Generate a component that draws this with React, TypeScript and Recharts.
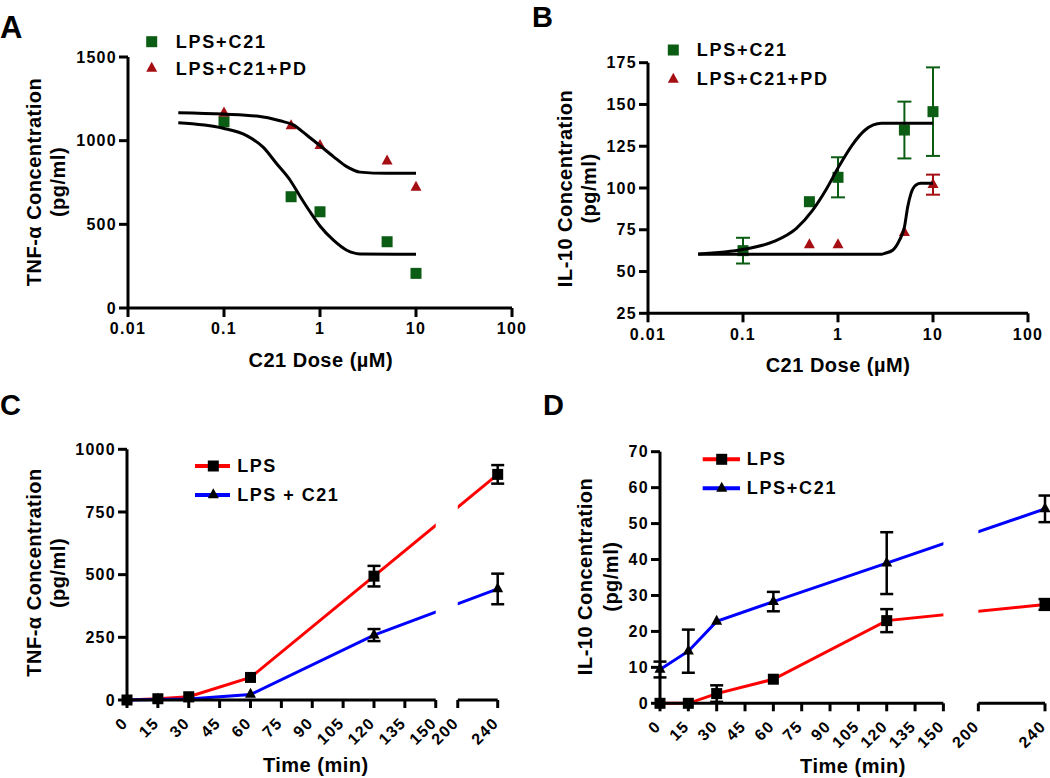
import React from "react";
import {
  ComposedChart,
  Line,
  Scatter,
  XAxis,
  YAxis,
  ErrorBar,
  ReferenceArea,
  ReferenceLine,
  Legend,
} from "recharts";

const FONT = "'Liberation Sans', Arial, Helvetica, sans-serif";
const GREEN = "#0b5d13";
const DARKRED = "#a50f14";
const RED = "#ff0000";
const BLUE = "#0000ff";
const BLACK = "#000000";

// ---------------- Panel A : TNF-alpha vs C21 dose ----------------
const doseA = [0.1, 0.5, 1, 5, 10];
const tnfC21 = [1113, 665, 575, 396, 207];
const tnfC21PD = [1165, 1088, 970, 878, 721];
const fitDoseA_C21 = [0.0334, 0.098, 0.172, 0.257, 0.354, 0.487, 0.619, 0.787, 1, 1.38, 1.9, 2.61, 10];
const fitTnfA_C21 = [1107, 1074, 1030, 960, 862, 765, 668, 575, 490, 405, 345, 323, 321];
const fitDoseA_PD = [0.0334, 0.098, 0.219, 0.383, 0.527, 0.726, 1, 1.38, 1.9, 2.61, 4.95, 10];
const fitTnfA_PD = [1167, 1159, 1147, 1119, 1094, 1034, 970, 905, 845, 812, 805, 805];
const doseTicks = [0.01, 0.1, 1, 10, 100];
const tnfATicks = [0, 500, 1000, 1500];

// ---------------- Panel B : IL-10 vs C21 dose ----------------
const doseB = [0.1, 0.5, 1, 5, 10];
const il10C21 = [62.5, 91.8, 106.4, 134.7, 145.7];
const il10C21Err = [7.7, 0, 12, 17, 26.5];
const il10C21PD = [62, 65.9, 65.9, 73.2, 102];
const il10C21PDErr = [0, 0, 0, 0, 6];
const fitDoseB_C21 = [0.0337, 0.102, 0.209, 0.365, 0.542, 0.745, 1.02, 1.41, 1.93, 2.87, 10];
const fitIl10B_C21 = [60.5, 63.3, 67.9, 75.9, 86.8, 98.8, 112.8, 125.7, 134.7, 138.7, 138.7];
const fitDoseB_PD = [0.0337, 2.87, 3.11, 3.79, 4.45, 5.01, 5.42, 5.87, 6.62, 7.45, 10];
const fitIl10B_PD = [60.3, 60.3, 60.9, 62.9, 68.9, 76.8, 88.8, 96.8, 101.8, 102.8, 102.8];
const il10BTicks = [25, 50, 75, 100, 125, 150, 175];

// ---------------- Panel C : TNF-alpha time course ----------------
const timePoints = [0, 15, 30, 60, 120, 240];
const tnfLPS = [0, 5, 13, 90, 494, 900];
const tnfLPSErr = [0, 0, 0, 0, 41, 37];
const tnfLPSC21 = [0, 2, 4, 22, 259, 443];
const tnfLPSC21Err = [0, 0, 0, 0, 24, 61];
const timeTicks = [0, 15, 30, 45, 60, 75, 90, 105, 120, 135, 150, 200, 240];
const tnfCTicks = [0, 250, 500, 750, 1000];

// ---------------- Panel D : IL-10 time course ----------------
const il10LPS = [0, 0, 2.7, 6.7, 23, 27.5];
const il10LPSErr = [0, 0, 2.3, 0, 3.2, 1.5];
const il10LPSC21 = [9.4, 14.5, 22.8, 28.3, 39, 54.1];
const il10LPSC21Err = [2.2, 6, 0, 2.7, 8.6, 3.7];
const il10DTicks = [0, 10, 20, 30, 40, 50, 60, 70];

// ---------------- broken time axis (150 | 200) ----------------
type Brk = { end1: number; start2: number; gap: number; ratio: number };
const brkC: Brk = { end1: 150, start2: 200, gap: 10.7, ratio: 0.485 };
const brkD: Brk = { end1: 150, start2: 200, gap: 18.5, ratio: 0.882 };
const bpos = (t: number, b: Brk) => (t <= b.end1 ? t : b.end1 + b.gap + (t - b.start2) * b.ratio);

// ---------------- data tables ----------------
const pts = (xs: number[], ys: number[], errs?: number[]) =>
  xs.map((x, i) => ({ x, y: ys[i], err: errs ? errs[i] : 0 }));

const aC21 = pts(doseA, tnfC21);
const aPD = pts(doseA, tnfC21PD);
const aFitC21 = pts(fitDoseA_C21, fitTnfA_C21);
const aFitPD = pts(fitDoseA_PD, fitTnfA_PD);

const bC21 = pts(doseB, il10C21, il10C21Err);
const bPD = pts(doseB, il10C21PD, il10C21PDErr);
const bFitC21 = pts(fitDoseB_C21, fitIl10B_C21);
const bFitPD = pts(fitDoseB_PD, fitIl10B_PD);

const cData = timePoints.map((t, i) => ({
  pos: bpos(t, brkC),
  lps: tnfLPS[i],
  lpsErr: tnfLPSErr[i],
  c21: tnfLPSC21[i],
  c21Err: tnfLPSC21Err[i],
}));
const dData = timePoints.map((t, i) => ({
  pos: bpos(t, brkD),
  lps: il10LPS[i],
  lpsErr: il10LPSErr[i],
  c21: il10LPSC21[i],
  c21Err: il10LPSC21Err[i],
}));

// ---------------- styles / helpers ----------------
const tickText: React.CSSProperties = {
  fontFamily: FONT,
  fontWeight: 700,
  fontSize: 16,
  letterSpacing: 1.3,
  fill: BLACK,
};
const titleText: React.CSSProperties = {
  fontFamily: FONT,
  fontWeight: 700,
  fontSize: 20,
  letterSpacing: 0.5,
  fill: BLACK,
};
const letterText: React.CSSProperties = {
  fontFamily: FONT,
  fontWeight: 700,
  fontSize: 29,
  fill: BLACK,
};
const axisStroke = { stroke: BLACK, strokeWidth: 3 };

const XTickCenter = (p: any) => (
  <text x={p.x} y={p.y} dy="0.71em" textAnchor="middle" style={tickText}>
    {String(p.payload.value)}
  </text>
);
const YTick = (p: any) => (
  <text x={p.x} y={p.y} dy="0.355em" textAnchor="end" style={tickText}>
    {String(p.payload.value)}
  </text>
);
const makeRotTick = (b: Brk) => (p: any) => {
  const v = p.payload.value;
  const t = timeTicks.find((tt) => Math.abs(bpos(tt, b) - v) < 1e-6);
  return (
    <text
      transform={`translate(${p.x + 2},${p.y + 14}) rotate(-45)`}
      textAnchor="end"
      style={tickText}
    >
      {t === undefined ? "" : String(t)}
    </text>
  );
};

const sqDot = (size: number, color: string) => (p: any) => {
  const { cx, cy, index } = p;
  if (cx == null || cy == null) return <g key={`n${index}`} />;
  return <rect key={`s${index}`} x={cx - size / 2} y={cy - size / 2} width={size} height={size} fill={color} />;
};
const triPoints = (cx: number, cy: number, w: number, h: number) =>
  `${cx},${cy - (2 * h) / 3} ${cx + w / 2},${cy + h / 3} ${cx - w / 2},${cy + h / 3}`;
const triDot = (w: number, h: number, color: string) => (p: any) => {
  const { cx, cy, index } = p;
  if (cx == null || cy == null) return <g key={`n${index}`} />;
  return <polygon key={`t${index}`} points={triPoints(cx, cy, w, h)} fill={color} />;
};

type LegItem = { label: string; marker: "square" | "triangle"; color: string; line?: string };
const LegendBox = (props: {
  items: LegItem[];
  rows: number[];
  markerX: number;
  textX: number;
  lineFrom?: number;
  lineTo?: number;
  width: number;
  height: number;
  ls: number;
}) => (
  <svg width={props.width} height={props.height} style={{ display: "block", overflow: "visible" }}>
    {props.items.map((it, i) => {
      const y = props.rows[i];
      return (
        <g key={it.label}>
          {it.line && (
            <line x1={props.lineFrom} x2={props.lineTo} y1={y} y2={y} stroke={it.line} strokeWidth={4} />
          )}
          {it.marker === "square" ? (
            <rect x={props.markerX - 5.5} y={y - 5.5} width={11} height={11} fill={it.color} />
          ) : (
            <polygon points={triPoints(props.markerX, y, 11, 10)} fill={it.color} />
          )}
          <text
            x={props.textX}
            y={y}
            dominantBaseline="central"
            style={{ fontFamily: FONT, fontWeight: 700, fontSize: 18, letterSpacing: props.ls, fill: BLACK }}
          >
            {it.label}
          </text>
        </g>
      );
    })}
  </svg>
);

const legendAB: LegItem[] = [
  { label: "LPS+C21", marker: "square", color: GREEN },
  { label: "LPS+C21+PD", marker: "triangle", color: DARKRED },
];
const legendC: LegItem[] = [
  { label: "LPS", marker: "square", color: BLACK, line: RED },
  { label: "LPS + C21", marker: "triangle", color: BLACK, line: BLUE },
];
const legendD: LegItem[] = [
  { label: "LPS", marker: "square", color: BLACK, line: RED },
  { label: "LPS+C21", marker: "triangle", color: BLACK, line: BLUE },
];

const greenSquare = (p: any) => <rect x={p.cx - 5.5} y={p.cy - 5.5} width={11} height={11} fill={GREEN} />;
const redTriangle = (p: any) => <polygon points={triPoints(p.cx, p.cy, 11, 10)} fill={DARKRED} />;

// ---------------- panels ----------------
const PanelA = () => (
  <ComposedChart width={540} height={390} margin={{ top: 57, right: 28, bottom: 42, left: 68 }}>
    <XAxis
      type="number"
      dataKey="x"
      scale="log"
      domain={[0.01, 100]}
      ticks={doseTicks}
      interval={0}
      allowDataOverflow
      height={40}
      axisLine={axisStroke}
      tickLine={axisStroke}
      tickSize={9}
      tickMargin={6}
      tick={XTickCenter}
    />
    <YAxis
      type="number"
      dataKey="y"
      domain={[0, 1500]}
      ticks={tnfATicks}
      interval={0}
      width={60}
      axisLine={axisStroke}
      tickLine={axisStroke}
      tickSize={9}
      tickMargin={2}
      tick={YTick}
    />
    <Scatter data={aC21} isAnimationActive={false} shape={greenSquare} />
    <Scatter data={aPD} isAnimationActive={false} shape={redTriangle} />
    <Line data={aFitPD} dataKey="y" type="monotone" stroke={BLACK} strokeWidth={3} dot={false} isAnimationActive={false} zIndex={700} />
    <Line data={aFitC21} dataKey="y" type="monotone" stroke={BLACK} strokeWidth={3} dot={false} isAnimationActive={false} zIndex={700} />
    <Legend
      layout="vertical"
      align="center"
      verticalAlign="middle"
      wrapperStyle={{ left: 140, top: 25, width: 220, height: 60 }}
      content={() => (
        <LegendBox items={legendAB} rows={[16.7, 43.5]} markerX={11.7} textX={35.7} width={220} height={60} ls={1.8} />
      )}
    />
  </ComposedChart>
);

const PanelB = () => (
  <ComposedChart width={525} height={390} margin={{ top: 62.7, right: 22, bottom: 36.7, left: 63 }}>
    <XAxis
      type="number"
      dataKey="x"
      scale="log"
      domain={[0.01, 100]}
      ticks={doseTicks}
      interval={0}
      allowDataOverflow
      height={40}
      axisLine={axisStroke}
      tickLine={axisStroke}
      tickSize={9}
      tickMargin={6}
      tick={XTickCenter}
    />
    <YAxis
      type="number"
      dataKey="y"
      domain={[25, 175]}
      ticks={il10BTicks}
      interval={0}
      width={60}
      axisLine={axisStroke}
      tickLine={axisStroke}
      tickSize={9}
      tickMargin={2}
      tick={YTick}
    />
    <Scatter data={bPD} isAnimationActive={false} shape={redTriangle}>
      <ErrorBar dataKey="err" direction="y" width={7} stroke={DARKRED} strokeWidth={2} />
    </Scatter>
    <Scatter data={bC21} isAnimationActive={false} shape={greenSquare}>
      <ErrorBar dataKey="err" direction="y" width={7} stroke={GREEN} strokeWidth={2} />
    </Scatter>
    <Line data={bFitC21} dataKey="y" type="monotone" stroke={BLACK} strokeWidth={3} dot={false} isAnimationActive={false} zIndex={700} />
    <Line data={bFitPD} dataKey="y" type="monotone" stroke={BLACK} strokeWidth={3} dot={false} isAnimationActive={false} zIndex={700} />
    <Legend
      layout="vertical"
      align="center"
      verticalAlign="middle"
      wrapperStyle={{ left: 140, top: 25, width: 220, height: 70 }}
      content={() => (
        <LegendBox items={legendAB} rows={[25, 54.3]} markerX={8.3} textX={31.7} width={220} height={70} ls={1.8} />
      )}
    />
  </ComposedChart>
);

const TimePanel = (props: {
  data: typeof cData;
  brk: Brk;
  width: number;
  margin: { top: number; right: number; bottom: number; left: number };
  yDomain: [number, number];
  yTicks: number[];
  legend: LegItem[];
  legendPos: { left: number; top: number };
  legendGeom: { rows: number[]; markerX: number; textX: number; lineFrom: number; lineTo: number; ls: number };
}) => {
  const b = props.brk;
  const xMax = bpos(240, b);
  const ymax = props.yDomain[1];
  return (
    <ComposedChart width={props.width} height={388} data={props.data} margin={props.margin}>
      <XAxis
        type="number"
        dataKey="pos"
        domain={[0, xMax]}
        ticks={timeTicks.map((t) => bpos(t, b))}
        interval={0}
        height={50}
        axisLine={false}
        tickLine={axisStroke}
        tickSize={8}
        tickMargin={2}
        tick={makeRotTick(b)}
      />
      <YAxis
        type="number"
        domain={props.yDomain}
        ticks={props.yTicks}
        interval={0}
        width={60}
        axisLine={axisStroke}
        tickLine={axisStroke}
        tickSize={9}
        tickMargin={2}
        tick={YTick}
      />
      <Line dataKey="lps" type="linear" stroke={RED} strokeWidth={3} dot={sqDot(11, BLACK)} isAnimationActive={false}>
        <ErrorBar dataKey="lpsErr" direction="y" width={6.5} stroke={BLACK} strokeWidth={2.5} />
      </Line>
      <Line dataKey="c21" type="linear" stroke={BLUE} strokeWidth={3} dot={triDot(11, 10, BLACK)} isAnimationActive={false}>
        <ErrorBar dataKey="c21Err" direction="y" width={6.5} stroke={BLACK} strokeWidth={2.5} />
      </Line>
      <ReferenceArea
        x1={bpos(150, b)}
        x2={bpos(200, b)}
        y1={0}
        y2={ymax}
        fill="#ffffff"
        fillOpacity={1}
        stroke="none"
        ifOverflow="visible"
        zIndex={450}
      />
      <ReferenceLine
        segment={[{ x: 0, y: 0 }, { x: bpos(150, b), y: 0 }]}
        stroke={BLACK}
        strokeWidth={3}
        ifOverflow="visible"
        zIndex={500}
      />
      <ReferenceLine
        segment={[{ x: bpos(200, b), y: 0 }, { x: xMax, y: 0 }]}
        stroke={BLACK}
        strokeWidth={3}
        ifOverflow="visible"
        zIndex={500}
      />
      <Legend
        layout="vertical"
        align="center"
        verticalAlign="middle"
        wrapperStyle={{ left: props.legendPos.left, top: props.legendPos.top, width: 200, height: 70 }}
        content={() => (
          <LegendBox
            items={props.legend}
            rows={props.legendGeom.rows}
            markerX={props.legendGeom.markerX}
            textX={props.legendGeom.textX}
            lineFrom={props.legendGeom.lineFrom}
            lineTo={props.legendGeom.lineTo}
            width={200}
            height={70}
            ls={props.legendGeom.ls}
          />
        )}
      />
    </ComposedChart>
  );
};

export default function App() {
  return (
    <div
      style={{
        position: "absolute",
        left: 0,
        top: 0,
        width: 1050,
        height: 778,
        overflow: "hidden",
        background: "#ffffff",
        fontFamily: FONT,
      }}
    >
      <div style={{ position: "absolute", left: 525, top: 0 }}>
        <PanelB />
      </div>
      <div style={{ position: "absolute", left: 0, top: 0 }}>
        <PanelA />
      </div>
      <div style={{ position: "absolute", left: 0, top: 390 }}>
        <TimePanel
          data={cData}
          brk={brkC}
          width={530}
          margin={{ top: 59.3, right: 32.3, bottom: 28, left: 67 }}
          yDomain={[0, 1000]}
          yTicks={tnfCTicks}
          legend={legendC}
          legendPos={{ left: 185, top: 60 }}
          legendGeom={{ rows: [16, 45], markerX: 28.3, textX: 52.3, lineFrom: 10, lineTo: 45, ls: 1.5 }}
        />
      </div>
      <div style={{ position: "absolute", left: 530, top: 390 }}>
        <TimePanel
          data={dData}
          brk={brkD}
          width={520}
          margin={{ top: 61.7, right: 5, bottom: 24.7, left: 70 }}
          yDomain={[0, 70]}
          yTicks={il10DTicks}
          legend={legendD}
          legendPos={{ left: 165, top: 55 }}
          legendGeom={{ rows: [14.3, 43.3], markerX: 26.7, textX: 51.7, lineFrom: 7.7, lineTo: 45, ls: 1.7 }}
        />
      </div>
      <svg
        width={1050}
        height={778}
        style={{ position: "absolute", left: 0, top: 0, pointerEvents: "none" }}
      >
        <text x={0} y={38} style={{ ...letterText, fontSize: 31 }}>A</text>
        <text x={532} y={27} style={letterText}>B</text>
        <text x={0} y={415} style={letterText}>C</text>
        <text x={543} y={415} style={letterText}>D</text>
        <text transform="translate(41,182) rotate(-90)" textAnchor="middle" style={titleText}>TNF-α Concentration</text>
        <text transform="translate(65,182) rotate(-90)" textAnchor="middle" style={titleText}>(pg/ml)</text>
        <text transform="translate(572,188.5) rotate(-90)" textAnchor="middle" style={titleText}>IL-10 Concentration</text>
        <text transform="translate(596,188.5) rotate(-90)" textAnchor="middle" style={titleText}>(pg/ml)</text>
        <text transform="translate(41,572.5) rotate(-90)" textAnchor="middle" style={titleText}>TNF-α Concentration</text>
        <text transform="translate(65,573) rotate(-90)" textAnchor="middle" style={titleText}>(pg/ml)</text>
        <text transform="translate(592,576.5) rotate(-90)" textAnchor="middle" style={titleText}>IL-10 Concentration</text>
        <text transform="translate(618,576.7) rotate(-90)" textAnchor="middle" style={titleText}>(pg/ml)</text>
        <text x={320.8} y={366.7} textAnchor="middle" style={titleText}>C21 Dose (µM)</text>
        <text x={838} y={371.7} textAnchor="middle" style={titleText}>C21 Dose (µM)</text>
        <text x={315.8} y={771.7} textAnchor="middle" style={titleText}>Time (min)</text>
        <text x={853} y={773.3} textAnchor="middle" style={titleText}>Time (min)</text>
      </svg>
    </div>
  );
}
